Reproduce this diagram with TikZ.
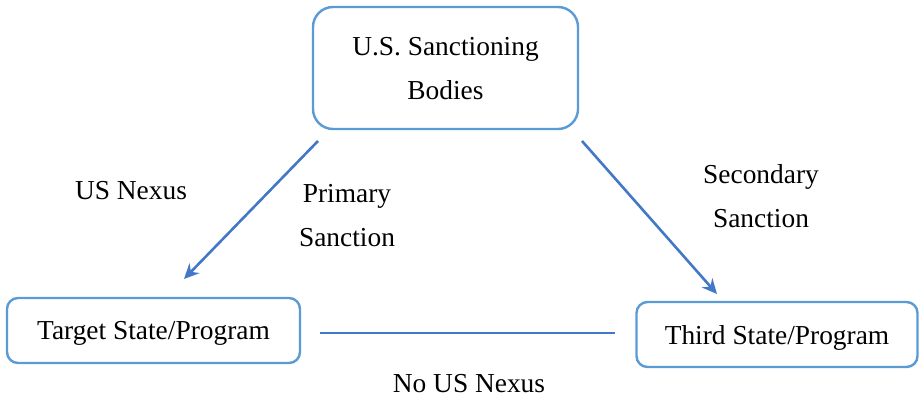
\documentclass[tikz,border=0pt]{standalone}
\usepackage{fontspec}
\setmainfont{Liberation Serif}
\usetikzlibrary{arrows.meta}
\definecolor{boxblue}{HTML}{5B9BD5}
\definecolor{arrblue}{HTML}{4278C6}
\begin{document}
\begin{tikzpicture}[x=1pt,y=-1pt,
  every node/.style={font=\fontsize{27.4}{44}\selectfont, text=black, inner sep=0pt},
  boxnode/.style={draw=boxblue, line width=2.4pt, fill=white, align=center, text depth=0pt},
  conn/.style={draw=arrblue, line width=2.6pt},
  arr/.style={conn, -{Stealth[length=15pt,width=14pt,inset=5pt]}},
  lbl/.style={align=center}]
\useasboundingbox (0,0) rectangle (920,399);
\node[boxnode, rounded corners=20pt, minimum width=265pt, minimum height=122pt] (top) at (445.5,68) {U.S. Sanctioning\\Bodies};
\node[boxnode, rounded corners=11pt, minimum width=293pt, minimum height=65pt] (target) at (153.5,330.5) {Target State/Program};
\node[boxnode, rounded corners=11pt, minimum width=281pt, minimum height=65pt] (third) at (777,334.5) {Third State/Program};
\coordinate (a1s) at (318,141);
\coordinate (a1e) at (184,279);
\coordinate (a2s) at (582,141);
\coordinate (a2e) at (717,294);
\coordinate (ls) at (320,333);
\coordinate (le) at (615,333);
\draw[arr] (a1s) -- (a1e);
\draw[arr] (a2s) -- (a2e);
\draw[conn] (ls) -- (le);
\node[lbl] (usnexus) at (131,191) {US Nexus};
\node[lbl] (primary) at (347,216) {Primary\\Sanction};
\node[lbl] (secondary) at (761,196) {Secondary\\Sanction};
\node[lbl] (nous) at (469,384) {No US Nexus};
\end{tikzpicture}
\end{document}
